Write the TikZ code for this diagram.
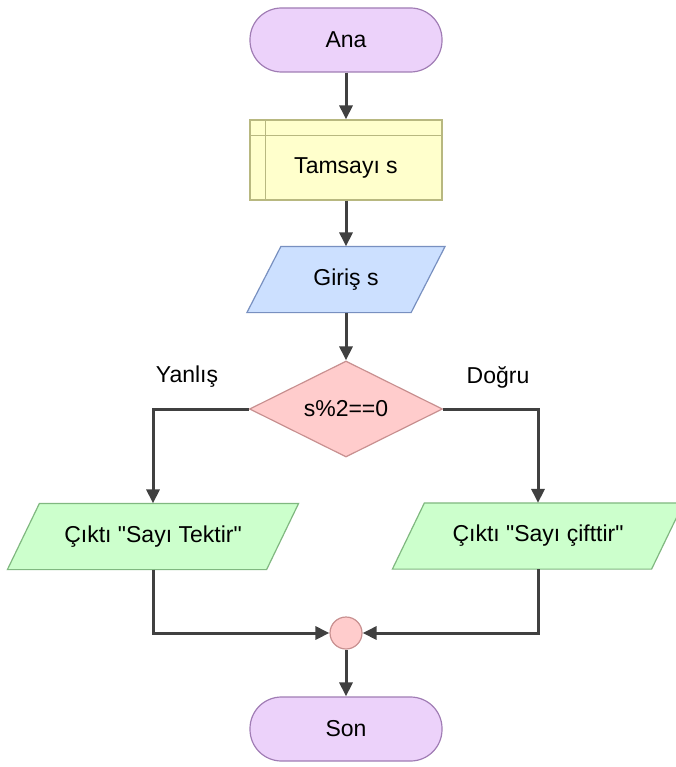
\documentclass[tikz,border=0pt]{standalone}
\usepackage{fontspec}
\setmainfont{Liberation Sans}
\usetikzlibrary{shapes.geometric,arrows.meta,backgrounds}

\definecolor{termfill}{HTML}{ECD2FA}
\definecolor{termline}{HTML}{A07CB4}
\definecolor{declfill}{HTML}{FFFFCC}
\definecolor{declline}{HTML}{B8B880}
\definecolor{infill}{HTML}{CCE0FF}
\definecolor{inline}{HTML}{7890C0}
\definecolor{condfill}{HTML}{FFCCCC}
\definecolor{condline}{HTML}{C89090}
\definecolor{outfill}{HTML}{CCFFCC}
\definecolor{outline}{HTML}{80B880}
\definecolor{flowgray}{HTML}{404040}

\tikzset{
  base/.style={font=\fontsize{23}{27}\selectfont, text=black, line width=1.2pt, inner sep=0pt},
  terminal/.style={base, rectangle, draw=termline, fill=termfill, rounded corners=31.5pt,
    minimum width=192pt, minimum height=64pt},
  declbox/.style={base, rectangle, draw=declline, fill=declfill,
    minimum width=192pt, minimum height=80pt},
  iobox/.style={base, rectangle, minimum height=65pt},
  decision/.style={base, diamond, shape aspect=2, draw=condline, fill=condfill,
    minimum width=193pt, minimum height=96pt},
  joint/.style={circle, draw=condline, fill=condfill, minimum size=32pt, inner sep=0pt, line width=1.2pt},
  branchlabel/.style={base},
  flow/.style={line width=3pt, draw=flowgray, -{Triangle[length=14pt,width=13pt]}}
}

% parallelogram behind an io node: #1 node, #2 half slant, #3 fill, #4 line
\newcommand\slantbox[4]{%
  \begin{scope}[on background layer]
    \filldraw[fill=#3, draw=#4, line width=1.2pt]
      ([xshift=-#2]#1.south west) -- ([xshift=-#2]#1.south east) --
      ([xshift=#2]#1.north east) -- ([xshift=#2]#1.north west) -- cycle;
  \end{scope}}
\newcommand\qq{\textquotedbl}

\begin{document}
\begin{tikzpicture}[x=1pt, y=-1pt]
  \useasboundingbox (0,0) rectangle (676,767);

  \node[terminal] (ana) at (346,40) {Ana};
  % declaration box: text sits in the area below the header band
  \node[declbox] (tams) at (346,160) {\raisebox{-8pt}[\height][\depth]{Tamsayı s}};
  \draw[draw=declline, line width=1.2pt]
    ([yshift=-16pt]tams.north west) -- ([yshift=-16pt]tams.north east);
  \draw[draw=declline, line width=1.2pt]
    ([xshift=16pt]tams.north west) -- ([xshift=16pt]tams.south west);

  \node[iobox, minimum width=163pt] (giris) at (346,279.5) {Giriş s};
  \slantbox{giris}{17pt}{infill}{inline}

  \node[decision] (cond) at (346,409) {s\%2==0};

  \node[branchlabel] (no) at (187,377) {Yanlış};
  \node[branchlabel] (yes) at (498,377) {Doğru};

  \node[iobox, minimum width=258pt] (outL) at (153,536.5) {Çıktı \qq Sayı Tektir\qq};
  \slantbox{outL}{16pt}{outfill}{outline}
  \node[iobox, minimum width=258pt] (outR) at (538,536) {Çıktı \qq Sayı çifttir\qq};
  \slantbox{outR}{16pt}{outfill}{outline}

  \node[joint] (join) at (346,633) {};
  \node[terminal] (son) at (346,729) {Son};

  \draw[flow] (ana) -- (tams);
  \draw[flow] (tams) -- (giris);
  \draw[flow] (giris) -- (cond.north);
  \draw[flow] (cond.west) -| (outL.north);
  \draw[flow] (cond.east) -| (outR.north);
  \draw[flow] (outL.south) |- (join.west);
  \draw[flow] (outR.south) |- (join.east);
  \draw[flow] (join) -- (son);
\end{tikzpicture}
\end{document}
